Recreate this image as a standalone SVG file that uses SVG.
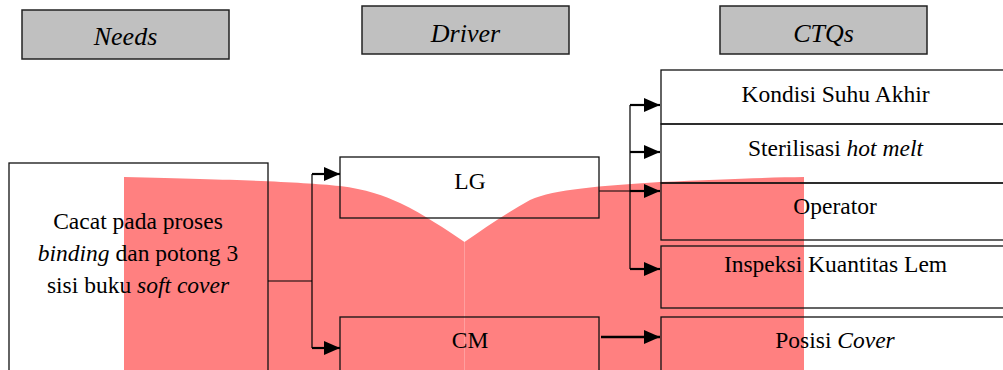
<svg xmlns="http://www.w3.org/2000/svg" width="1003" height="370" viewBox="0 0 1003 370">
<style>
.hdr{fill:#c0c0c0;stroke:#222;stroke-width:1.5}
.box{fill:none;stroke:#111;stroke-width:1.3}
.t{font-size:23.5px}
.h{font-size:26px;font-style:italic}
.i{font-style:italic}
.thin{fill:none;stroke:#000;stroke-width:1.2}
.arr{fill:none;stroke:#000;stroke-width:2.2;marker-end:url(#ah)}
.red{fill:#ff8080}
</style>
<defs>
<marker id="ah" viewBox="0 0 16 14" markerWidth="16" markerHeight="14" refX="16" refY="7" orient="auto" markerUnits="userSpaceOnUse">
<path d="M0,0 L16,7 L0,14 Z" fill="#000"/>
</marker>
</defs>
<rect width="1003" height="370" fill="#fff"/>
<g id="highlight">
<path class="red" d="M124,177 C250,180 300,182 340,186 C365,189 385,196 400,203 C425,215 445,229 464.5,242 L464.5,370 L124,370 Z"/>
<path class="red" d="M464.5,242 C485,228 505,214 530,200 C555,189 600,186 660,182 C720,179 770,177.5 804,177 L804,370 L464.5,370 Z"/>
</g>
<g font-family="Liberation Serif, Times New Roman, DejaVu Serif, serif" text-anchor="middle" fill="#000">
<g id="header-needs"><rect class="hdr" x="22" y="10" width="207" height="49"/><text class="h" x="125.5" y="45">Needs</text></g>
<g id="header-driver"><rect class="hdr" x="362" y="6" width="207" height="48"/><text class="h" x="465.5" y="42">Driver</text></g>
<g id="header-ctqs"><rect class="hdr" x="720" y="6" width="207" height="48"/><text class="h" x="823.5" y="42">CTQs</text></g>
<g id="needs"><rect class="box" x="9" y="163" width="259" height="220"/>
<text class="t" x="138" y="229">Cacat pada proses</text>
<text class="t" x="138" y="261"><tspan class="i">binding</tspan> dan potong 3</text>
<text class="t" x="138" y="293">sisi buku <tspan class="i">soft cover</tspan></text></g>
<g id="lg"><rect class="box" x="340" y="157" width="259" height="61"/><text class="t" x="470" y="189">LG</text></g>
<g id="cm"><rect class="box" x="340" y="317" width="259" height="70"/><text class="t" x="470" y="348">CM</text></g>
<g id="ctq-kondisi"><rect class="box" x="661" y="70" width="360" height="54"/><text class="t" x="835.5" y="102">Kondisi Suhu Akhir</text></g>
<g id="ctq-sterilisasi"><rect class="box" x="661" y="124" width="360" height="59"/><text class="t" x="835.5" y="156">Sterilisasi <tspan class="i">hot melt</tspan></text></g>
<g id="ctq-operator"><rect class="box" x="661" y="183" width="360" height="57"/><text class="t" x="835" y="214">Operator</text></g>
<g id="ctq-inspeksi"><rect class="box" x="661" y="246" width="360" height="62"/><text class="t" x="835.5" y="272">Inspeksi Kuantitas Lem</text></g>
<g id="ctq-posisi"><rect class="box" x="661" y="317" width="360" height="70"/><text class="t" x="835" y="348">Posisi <tspan class="i">Cover</tspan></text></g>
</g>
<g id="connectors">
<path class="thin" d="M268,281 H312 M312,174 V348"/>
<path class="arr" d="M312,174 H340"/>
<path class="arr" d="M312,348 H340"/>
<path class="thin" d="M599,191 H630 M630,105 V269"/>
<path class="arr" d="M630,105 H660"/>
<path class="arr" d="M630,152 H660"/>
<path class="arr" d="M630,191 H660"/>
<path class="arr" d="M630,269 H660"/>
<path class="arr" d="M601,337 H660" style="stroke-width:2.6"/>
</g>
</svg>
